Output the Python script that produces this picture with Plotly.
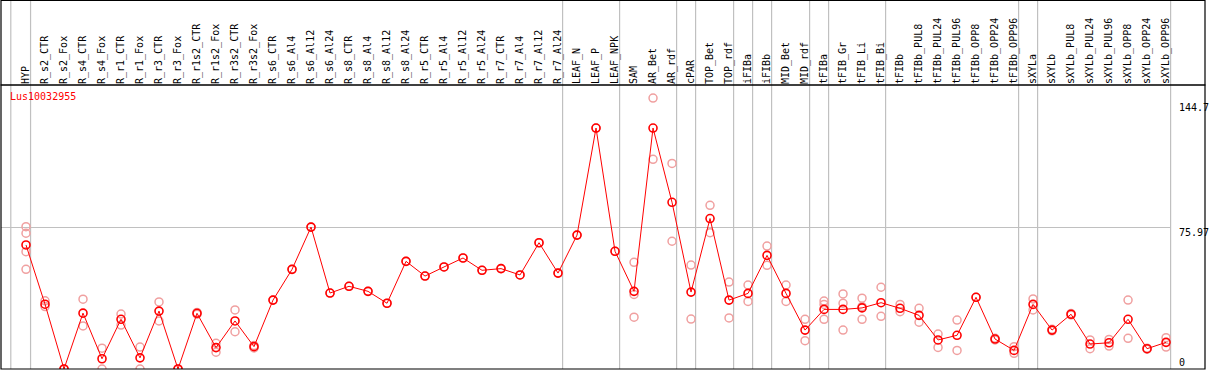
import plotly.graph_objects as go

categories = ["HYP", "R_s2_CTR", "R_s2_Fox", "R_s4_CTR", "R_s4_Fox", "R_r1_CTR", "R_r1_Fox",
              "R_r3_CTR", "R_r3_Fox", "R_r1s2_CTR", "R_r1s2_Fox", "R_r3s2_CTR", "R_r3s2_Fox",
              "R_s6_CTR", "R_s6_Al4", "R_s6_Al12", "R_s6_Al24", "R_s8_CTR", "R_s8_Al4", "R_s8_Al12",
              "R_s8_Al24", "R_r5_CTR", "R_r5_Al4", "R_r5_Al12", "R_r5_Al24", "R_r7_CTR", "R_r7_Al4",
              "R_r7_Al12", "R_r7_Al24", "LEAF_N", "LEAF_P", "LEAF_NPK", "SAM", "AR_Bet", "AR_rdf",
              "cPAR", "TOP_Bet", "TOP_rdf", "iFIBa", "iFIBb", "MID_Bet", "MID_rdf", "tFIBa",
              "tFIB_Gr", "tFIB_Li", "tFIB_Bi", "tFIBb", "tFIBb_PUL8", "tFIBb_PUL24", "tFIBb_PUL96",
              "tFIBb_OPP8", "tFIBb_OPP24", "tFIBb_OPP96", "sXYLa", "sXYLb", "sXYLb_PUL8",
              "sXYLb_PUL24", "sXYLb_PUL96", "sXYLb_OPP8", "sXYLb_OPP24", "sXYLb_OPP96"]

mean_values = [66.6, 34.8, 0.0, 30.0, 5.5, 26.7, 6.0, 31.1, 0.0, 29.9, 11.5, 25.8, 12.0,
               37.0, 53.5, 76.2, 40.8, 44.4, 41.7, 35.3, 57.8, 49.9, 54.8, 59.6, 53.0, 53.9, 50.5,
               67.8, 51.5, 71.9, 129.4, 63.2, 41.7, 129.4, 89.5, 41.3, 80.8, 37.0, 40.6, 61.0,
               40.6, 20.9, 32.0, 32.0, 32.8, 35.6, 32.6, 28.8, 15.6, 18.1, 38.5, 16.1, 10.0,
               34.7, 20.9, 29.4, 13.4, 14.1, 26.7, 10.9, 14.3]

rep_a = [76.4, 36.6, 0.0, 37.5, 11.2, 29.5, 11.8, 36.0, 0.0, 30.4, 13.8, 31.7, 12.6,
         37.0, 53.5, 76.2, 40.8, 44.4, 41.7, 35.3, 57.8, 49.9, 54.8, 59.6, 53.0, 53.9, 50.5,
         67.8, 51.5, 71.9, 129.4, 63.2, 57.3, 145.5, 110.4, 55.8, 87.9, 46.7, 45.1, 66.0,
         45.1, 26.7, 36.5, 40.3, 38.0, 43.9, 34.7, 32.6, 18.8, 26.3, 38.5, 16.5, 12.0,
         37.6, 21.3, 29.8, 15.6, 15.9, 37.0, 11.2, 16.8]
rep_b = [72.9, 33.5, 0.0, 23.1, 0.0, 23.6, 0.0, 25.8, 0.0, 29.4, 9.0, 20.0, 11.3,
         None, None, None, None, None, None, None, None, None, None, None, None, None, None,
         None, None, None, None, None, 27.8, 112.6, 68.6, 26.8, 73.2, 27.4, 36.3, 55.7,
         36.3, 15.2, 34.7, 35.3, 33.5, 28.3, 30.8, 25.1, 11.6, 10.0, None, 15.6, 8.4,
         31.7, 20.5, 29.0, 10.9, 12.3, 16.5, 10.6, 11.8]
rep_c = [63.0, None, None, None, None, None, None, None, None, None, None, None, None,
         None, None, None, None, None, None, None, None, None, None, None, None, None, None,
         None, None, None, None, None, 40.0, None, None, None, None, None, None, None,
         None, None, 26.7, 20.9, 26.7, None, None, None, None, None, None, None, None,
         None, None, None, None, None, None, None, None]
rep_d = [53.5] + [None] * 60

gene_label = "Lus10032955"
y_tick_values = [144.7, 75.97, 0]
y_tick_text = ["144.7", "75.97", "0"]
group_ends = [0, 28, 31, 34, 35, 37, 38, 39, 41, 42, 45, 52, 53, 60]

FONT = "DejaVu Sans Mono"
x_idx = list(range(len(categories)))

rep_x, rep_y = [], []
for reps in (rep_a, rep_b, rep_c, rep_d):
    for i, v in enumerate(reps):
        if v is not None:
            rep_x.append(i)
            rep_y.append(v)

fig = go.Figure()
fig.add_trace(go.Scatter(
    x=rep_x, y=rep_y, mode="markers",
    marker=dict(symbol="circle-open", size=8, color="#f0a0a0", line=dict(width=1.5, color="#f0a0a0")),
    showlegend=False, hoverinfo="skip"))
fig.add_trace(go.Scatter(
    x=x_idx, y=mean_values, mode="lines+markers",
    line=dict(color="#ff0000", width=1),
    marker=dict(symbol="circle-open", size=8, color="#ff0000", line=dict(width=1.6, color="#ff0000")),
    showlegend=False))

XMIN, XMAX = -1.316, 62.05
YMAX = 152.5
TOP_PAPER = 1 + 84.5 / 284

shapes = []
# group separators
sep_positions = [-0.8] + [g + 0.24 for g in group_ends]
for s in sep_positions:
    shapes.append(dict(type="line", xref="x", yref="paper", x0=s, x1=s, y0=0, y1=TOP_PAPER,
                       line=dict(color="#c0c0c0", width=1.2), layer="below"))
# horizontal gridline at middle tick
shapes.append(dict(type="line", xref="x", yref="y", x0=XMIN, x1=group_ends[-1] + 0.24,
                   y0=y_tick_values[1], y1=y_tick_values[1],
                   line=dict(color="#c0c0c0", width=1.2), layer="below"))
# frame
shapes.append(dict(type="rect", xref="paper", yref="paper", x0=0, x1=1, y0=0, y1=1,
                   line=dict(color="black", width=1.2)))
shapes.append(dict(type="rect", xref="paper", yref="paper", x0=0, x1=1, y0=1, y1=TOP_PAPER,
                   line=dict(color="black", width=1.2)))

annotations = [dict(text=gene_label, xref="paper", yref="paper", x=0, y=1, xanchor="left",
                    yanchor="top", xshift=7, yshift=-4, showarrow=False,
                    font=dict(family=FONT, size=10, color="#ff0000"))]
shifts = [-7.5, -5, 7]
for v, t, sh in zip(y_tick_values, y_tick_text, shifts):
    annotations.append(dict(text=t, xref="x", yref="y", x=60.55, y=v, xanchor="left",
                            yanchor="middle", yshift=sh, showarrow=False,
                            font=dict(family=FONT, size=10, color="black")))

fig.update_layout(
    width=1209, height=370,
    margin=dict(l=1, r=4, t=85, b=1, pad=0),
    paper_bgcolor="white", plot_bgcolor="white",
    shapes=shapes, annotations=annotations,
    xaxis=dict(range=[XMIN, XMAX], tickvals=x_idx, ticktext=categories, side="top",
               tickangle=-90, showgrid=False, zeroline=False, showline=False, ticks="",
               tickfont=dict(family=FONT, size=10, color="black")),
    yaxis=dict(range=[0, YMAX], showticklabels=False, showgrid=False, zeroline=False,
               showline=False),
)

fig.write_html("out.html", config={"displayModeBar": False},
               post_script="document.body.style.margin='0';document.body.style.overflow='hidden';")
